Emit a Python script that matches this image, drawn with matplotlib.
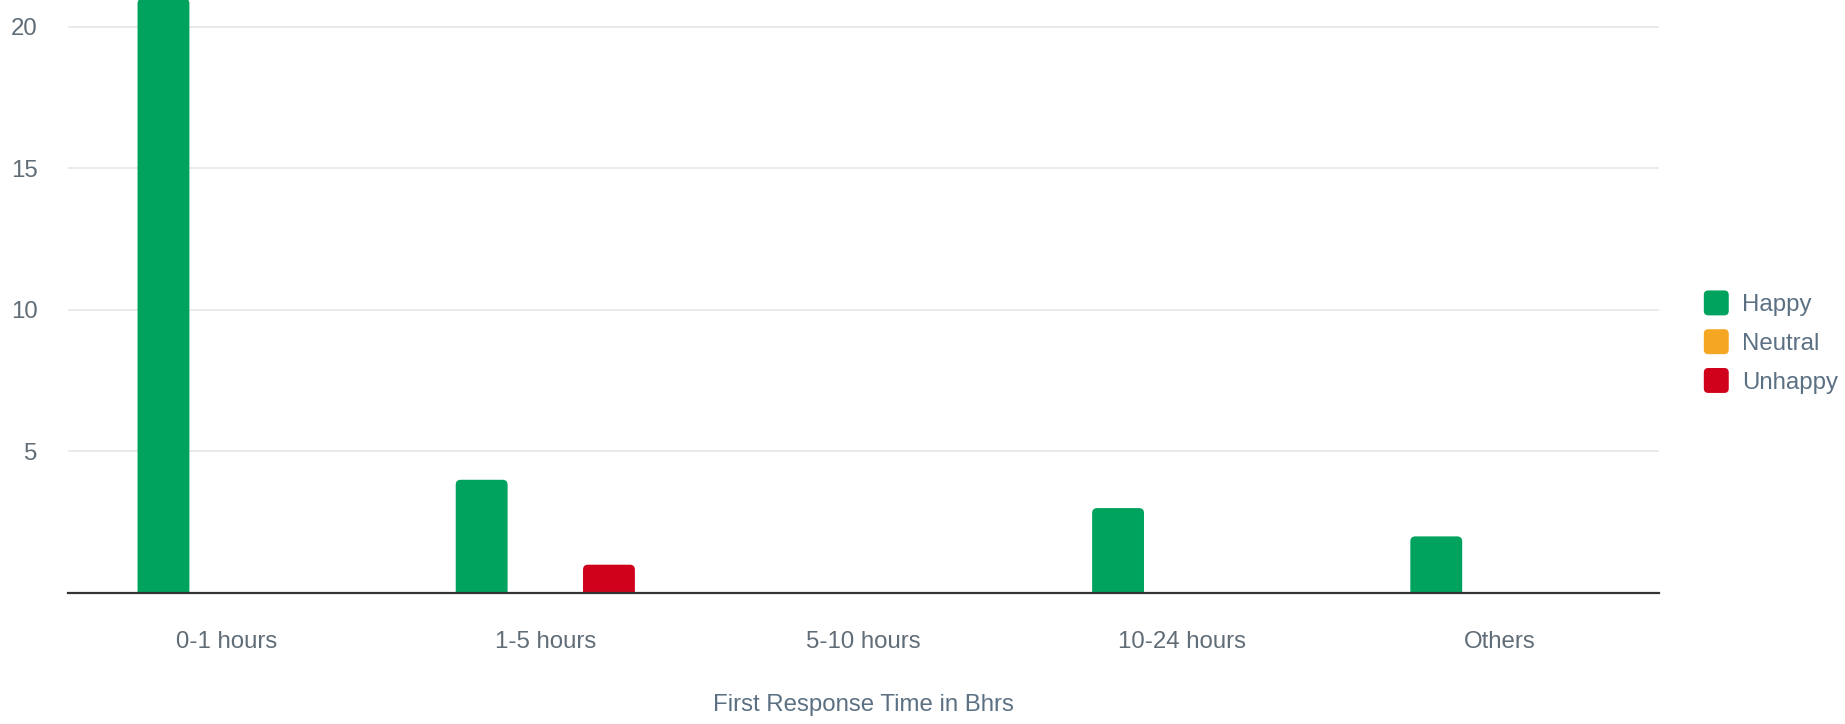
import numpy as np
import matplotlib
matplotlib.use("Agg")
import matplotlib.pyplot as plt
from matplotlib.patches import FancyBboxPatch, PathPatch, Rectangle
from matplotlib.path import Path
from matplotlib.legend_handler import HandlerPatch

plt.rcParams['font.family'] = ['Liberation Sans', 'DejaVu Sans']

categories = ["0-1 hours", "1-5 hours", "5-10 hours", "10-24 hours", "Others"]
happy = [21, 4, 0, 3, 2]
neutral = [0, 0, 0, 0, 0]
unhappy = [0, 1, 0, 0, 0]

series = [("Happy", happy, "#00a35e"),
          ("Neutral", neutral, "#f5a623"),
          ("Unhappy", unhappy, "#d0021b")]

W, H = 1845, 724
left, right, bottom_px, top_px = 68, 1659, 593, 0
ymax = 20.95

fig = plt.figure(figsize=(W / 100, H / 100), dpi=100)
ax = fig.add_axes([left / W, 1 - bottom_px / H, (right - left) / W, (bottom_px - top_px) / H])

x = np.arange(len(categories))
width = 0.163
offsets = [-0.2, 0.0, 0.2]

# radius of the rounded top corners, px -> data units
px_per_x = (right - left) / len(categories)
px_per_y = (bottom_px - top_px) / ymax
rx = 5 / px_per_x
ry = 5 / px_per_y


def top_rounded_bar(x0, w, h):
    x1 = x0 + w
    verts = [(x0, 0), (x0, h - ry), (x0, h), (x0 + rx, h), (x1 - rx, h),
             (x1, h), (x1, h - ry), (x1, 0), (x0, 0)]
    codes = [Path.MOVETO, Path.LINETO, Path.CURVE3, Path.CURVE3, Path.LINETO,
             Path.CURVE3, Path.CURVE3, Path.LINETO, Path.CLOSEPOLY]
    return Path(verts, codes)


for (name, vals, color), off in zip(series, offsets):
    for xi, v in zip(x, vals):
        if v <= 0:
            continue
        ax.add_patch(PathPatch(top_rounded_bar(xi + off - width / 2, width, v),
                               facecolor=color, edgecolor="none", zorder=3, clip_on=False))

ax.set_xlim(-0.5, len(categories) - 0.5)
ax.set_ylim(0, ymax)
ax.set_yticks([5, 10, 15, 20])
ax.yaxis.grid(True, color="#e6e6e6", linewidth=1.2, zorder=0)
ax.set_xticks(x)
ax.set_xticklabels(categories)
ax.tick_params(axis="both", length=0, labelsize=17.3, colors="#606c76")
ax.tick_params(axis="x", pad=27)
ax.tick_params(axis="y", pad=22)

for s in ["top", "right", "left"]:
    ax.spines[s].set_visible(False)
ax.spines["bottom"].set_color("#333333")
ax.spines["bottom"].set_linewidth(1.6)
ax.spines["bottom"].set_zorder(4)

ax.set_xlabel("First Response Time in Bhrs", fontsize=17.3, color="#5b7083", labelpad=30)


class RoundHandler(HandlerPatch):
    def create_artists(self, legend, orig_handle, xdescent, ydescent, width, height, fontsize, trans):
        s = min(width, height)
        p = FancyBboxPatch((-xdescent + (width - s) / 2, -ydescent + (height - s) / 2), s, s,
                           boxstyle=f"round,pad=0,rounding_size={s * 0.18}",
                           facecolor=orig_handle.get_facecolor(), edgecolor="none",
                           transform=trans)
        return [p]


handles = [Rectangle((0, 0), 1, 1, facecolor=c, label=n) for n, _, c in series]
leg = fig.legend(handles=handles, loc="center left", bbox_to_anchor=(1680 / W, 1 - 342 / H),
                 frameon=False, fontsize=17.3, labelcolor="#5b7083", handletextpad=0.45,
                 labelspacing=0.55, handlelength=1.22, handleheight=1.22,
                 handler_map={Rectangle: RoundHandler()})

fig.savefig("out.png", dpi=100)
